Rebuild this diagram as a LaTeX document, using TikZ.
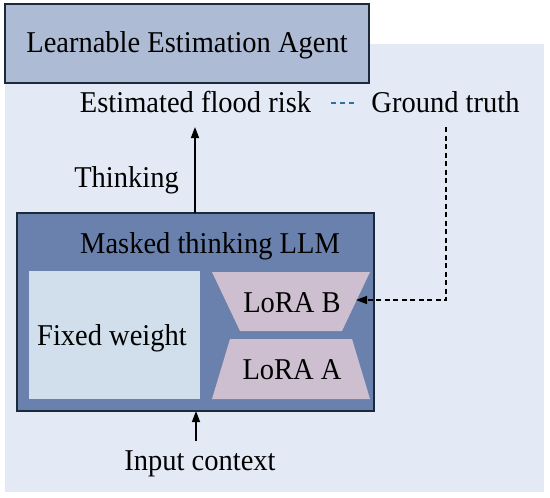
\documentclass[tikz,border=0pt]{standalone}
\usepackage{fontspec}
\setmainfont{Liberation Serif}
\usetikzlibrary{arrows.meta}
\definecolor{bgc}{HTML}{E3EAF5}
\definecolor{agentc}{HTML}{ADBBD4}
\definecolor{llmc}{HTML}{6A81AE}
\definecolor{fixc}{HTML}{D0DFEB}
\definecolor{lorac}{HTML}{CDBFD0}
\definecolor{edgec}{HTML}{1B2A3A}
\definecolor{legc}{HTML}{2F6FA3}
\newcommand{\vstr}[1]{\scalebox{1}[1.06]{#1}}
\tikzset{
  txt/.style={inner sep=0pt, anchor=base, font=\fontsize{28.5}{33}\selectfont},
  boxline/.style={draw=edgec, line width=1.5pt},
  arr/.style={line width=1.5pt, -{Triangle[length=11pt,width=8pt]}},
  dasharr/.style={line width=1.5pt, dash pattern=on 5pt off 3.5pt, -{Triangle[length=11pt,width=8pt]}},
}
\begin{document}
\begin{tikzpicture}[x=1pt,y=-1pt]
\useasboundingbox (0,0) rectangle (550,498);
% background panel
\fill[bgc] (5,44) rectangle (544,492);
% agent box
\draw[boxline, fill=agentc] (5,4) rectangle (369,83);
\node[txt] (agent) at (187,52) {\vstr{Learnable Estimation Agent}};
% outputs
\node[txt] (efr) at (195.5,112) {\vstr{Estimated flood risk}};
\node[txt] (gt) at (445.5,112) {\vstr{Ground truth}};
\draw[legc, line width=1.3pt, dash pattern=on 5pt off 4pt] (331,103) -- (357,103);
% LLM box
\draw[boxline, fill=llmc] (17,213) rectangle (374,411);
\coordinate (llmtop) at (195,213);
\coordinate (llmbot) at (196,411);
\node[txt] (llm) at (210,253) {\vstr{Masked thinking LLM}};
% fixed weight
\fill[fixc] (29,271) rectangle (200,399);
\node[txt] (fw) at (112,345) {\vstr{Fixed weight}};
% LoRA B
\fill[lorac] (212,272) -- (370,272) -- (342,331) -- (240,331) -- cycle;
\node[txt] (lb) at (292,312) {\vstr{LoRA B}};
\coordinate (lbR) at (356,300);
% LoRA A
\fill[lorac] (230,339) -- (352,339) -- (370,399) -- (212,399) -- cycle;
\node[txt] (la) at (292,379) {\vstr{LoRA A}};
% thinking arrow
\coordinate (efrb) at (195,127);
\draw[arr] (llmtop) -- (efrb);
\node[txt] (think) at (126.5,187) {\vstr{Thinking}};
% input arrow
\coordinate (inp) at (196,441);
\draw[arr] (inp) -- (llmbot);
\node[txt] (ic) at (200,470) {\vstr{Input context}};
% ground truth dashed feedback
\coordinate (gtb) at (446,127);
\draw[dasharr] (gtb) |- (lbR);
\end{tikzpicture}
\end{document}
